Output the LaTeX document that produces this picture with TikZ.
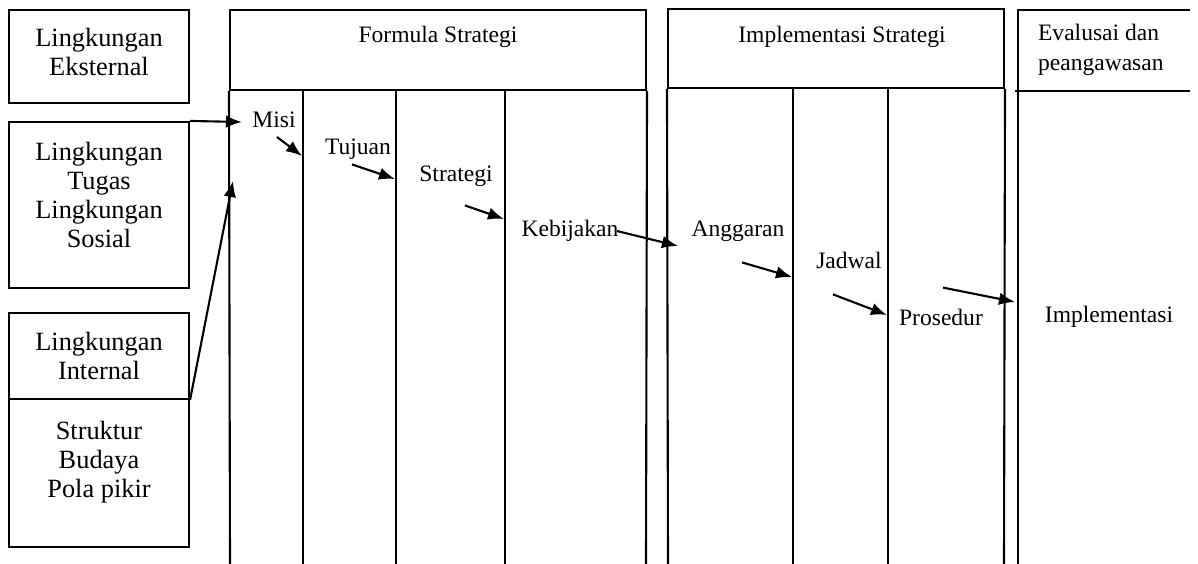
\documentclass[tikz,border=0pt]{standalone}
\usepackage{fontspec}
\setmainfont{Liberation Serif}
\usetikzlibrary{arrows.meta, positioning, calc}

\begin{document}
\begin{tikzpicture}[
    x=0.02cm, y=-0.02cm,
    envbox/.style={rectangle, draw, line width=1.2pt, minimum width=3.6cm, inner sep=0pt},
    envtext/.style={align=center, font=\fontsize{15}{16.5}\selectfont, inner sep=1pt},
    hdrbox/.style={rectangle, draw, line width=1.2pt, inner sep=0pt},
    lbl/.style={font=\fontsize{13.4}{17}\selectfont, inner sep=1pt},
    col/.style={line width=1.2pt},
    arr/.style={-{Latex[length=3.2mm, width=2.5mm]}, line width=1.2pt},
]
\useasboundingbox (0,0) rectangle (1198,564);

% Left boxes
\node[envbox, minimum height=1.86cm] (eksternal) at (99,56.5) {};
\node[envbox, minimum height=3.32cm] (tugas) at (99,205) {};
\node[envbox, minimum height=1.72cm] (internal) at (99,356) {};
\node[envbox, minimum height=2.96cm] (struktur) at (99,473) {};

\node[envtext] (eksternalTxt) at (99,52) {Lingkungan\\Eksternal};
\node[envtext] (tugasTxt) at (99,195) {Lingkungan\\Tugas\\Lingkungan\\Sosial};
\node[envtext] (internalTxt) at (99,356) {Lingkungan\\Internal};
\node[envtext] (strukturTxt) at (99,462) {Struktur\\Budaya\\Pola pikir};

% Headers
\node[hdrbox, minimum width=8.32cm, minimum height=1.6cm] (formula) at (438,50) {};
\node[hdrbox, minimum width=6.72cm, minimum height=1.58cm] (implementasi) at (836,48.5) {};
\node[lbl] (formulaTxt) at (438,37) {Formula Strategi};
\node[lbl] (implementasiTxt) at (842,37) {Implementasi Strategi};
\node[lbl, align=left, anchor=west] (evaluasiTxt) at (1036,50) {Evalusai dan\\peangawasan};

% Columns
\draw[col] (formula.south west) -- (230,564);
\draw[col] (303,90) -- (303,564);
\draw[col] (396,90) -- (396,564);
\draw[col] (505,90) -- (505,564);
\draw[col] (formula.south east) -- (646,564);
\draw[col] (implementasi.south west) -- (668,564);
\draw[col] (793,88) -- (793,564);
\draw[col] (888,88) -- (888,564);
\draw[col] (implementasi.south east) -- (1004,564);
\draw[col] (1018,564) -- (1018,10) -- (1190,10);
\draw[col] (1015,91) -- (1190,91);

% Steps
\node[lbl] (misi) at (274,120) {Misi};
\node[lbl] (tujuan) at (358,149) {Tujuan};
\node[lbl] (strategi) at (456,176) {Strategi};
\node[lbl] (kebijakan) at (570,231) {Kebijakan};
\node[lbl] (anggaran) at (738,231) {Anggaran};
\node[lbl] (jadwal) at (849,260) {Jadwal};
\node[lbl] (prosedur) at (941,317) {Prosedur};
\node[lbl] (hasil) at (1109,317) {Implementasi};

% Arrow ends
\coordinate (misiIn) at (242,122);
\coordinate (internalIn) at (233,181);
\coordinate (misiTip) at (302,156);
\coordinate (tujuanTip) at (395,179);
\coordinate (strategiTip) at (504,219);
\coordinate (kebijakanTip) at (678,246);
\coordinate (anggaranTip) at (792,277);
\coordinate (jadwalTip) at (887,315);
\coordinate (prosedurTip) at (1015,302);

% Arrows
\draw[arr] (tugas.north east) -- (misiIn);
\draw[arr] (internal.south east) -- (internalIn);
\draw[arr] ([shift={(3,7)}]misi.south) -- (misiTip);
\draw[arr] ([shift={(-6,3)}]tujuan.south) -- (tujuanTip);
\draw[arr] ([shift={(9,17)}]strategi.south) -- (strategiTip);
\draw[arr] ([xshift=-2]kebijakan.east) -- (kebijakanTip);
\draw[arr] ([shift={(4,19)}]anggaran.south) -- (anggaranTip);
\draw[arr] ([shift={(-16,24)}]jadwal.south) -- (jadwalTip);
\draw[arr] ([shift={(2,-19)}]prosedur.north) -- (prosedurTip);
\end{tikzpicture}
\end{document}
